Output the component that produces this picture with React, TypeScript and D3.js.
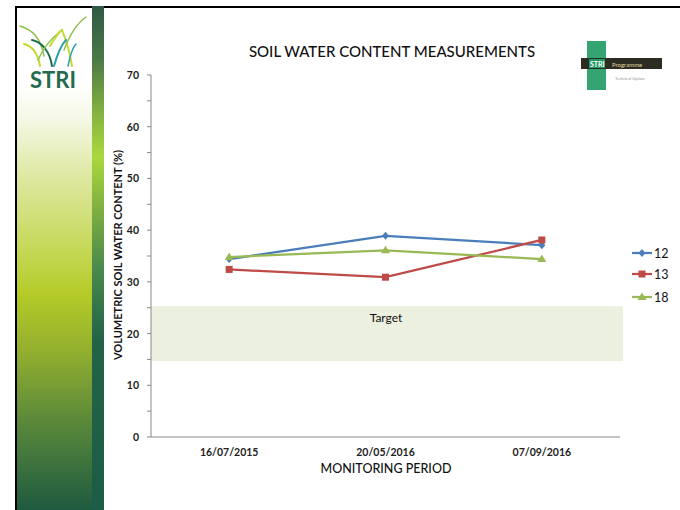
import React from "react";
import * as d3 from "d3";

const categories = ["16/07/2015", "20/05/2016", "07/09/2016"];
const series12 = [34.4, 38.9, 37.1];
const series13 = [32.4, 30.9, 38.1];
const series18 = [34.8, 36.1, 34.4];
const seriesNames = ["12", "13", "18"];
const yTicks = [0, 10, 20, 30, 40, 50, 60, 70];
const targetRange = [14.7, 25.3];

const W = 680, H = 510;
const PL = 151, PR = 620, PT = 75, PB = 437;
const FONT = "Lato, 'Open Sans', sans-serif";

export default function App() {
  const x = d3.scaleBand<string>().domain(categories).range([PL, PR]);
  const y = d3.scaleLinear().domain([0, 70]).range([PB, PT]);
  const cx = (c: string) => (x(c) as number) + x.bandwidth() / 2;
  const line = d3.line<number>().x((_, i) => cx(categories[i])).y((d) => y(d));
  const minor = d3.range(0, 71, 5);

  const colors = ["#4a7ebb", "#be4b48", "#98b954"];
  const data = [series12, series13, series18];

  const marker = (k: number, px: number, py: number, key: string) => {
    if (k === 0)
      return <path key={key} d={`M${px},${py - 4}L${px + 3.5},${py}L${px},${py + 4}L${px - 3.5},${py}Z`} fill={colors[0]} />;
    if (k === 1) return <rect key={key} x={px - 3.5} y={py - 3.5} width={7} height={7} fill={colors[1]} />;
    return <path key={key} d={`M${px},${py - 4.5}L${px + 4.5},${py + 3}L${px - 4.5},${py + 3}Z`} fill={colors[2]} />;
  };

  return (
    <svg width={W} height={H} style={{ position: "absolute", left: 0, top: 0 }}>
      <defs>
        <linearGradient id="panel" x1="0" y1="0" x2="0" y2="1">
          <stop offset="0" stopColor="#ffffff" />
          <stop offset="0.15" stopColor="#ffffff" />
          <stop offset="0.22" stopColor="#f5f8e6" />
          <stop offset="0.32" stopColor="#e1eaaa" />
          <stop offset="0.48" stopColor="#c6d858" />
          <stop offset="0.57" stopColor="#b4cb28" />
          <stop offset="0.68" stopColor="#94b02e" />
          <stop offset="0.82" stopColor="#5c8a3a" />
          <stop offset="1" stopColor="#1e5a40" />
        </linearGradient>
        <linearGradient id="bar" x1="0" y1="0" x2="0" y2="1">
          <stop offset="0" stopColor="#2e5a46" />
          <stop offset="0.1" stopColor="#4a7646" />
          <stop offset="0.22" stopColor="#88b640" />
          <stop offset="0.3" stopColor="#aad83e" />
          <stop offset="0.4" stopColor="#80b040" />
          <stop offset="0.52" stopColor="#4a8a4c" />
          <stop offset="0.66" stopColor="#236448" />
          <stop offset="1" stopColor="#1b5c46" />
        </linearGradient>
      </defs>
      <rect x={0} y={0} width={W} height={H} fill="#fff" />
      {/* frame */}
      <rect x={15} y={6} width={W - 15} height={2} fill="#000" />
      <rect x={15} y={6} width={2} height={H - 6} fill="#000" />
      <rect x={17} y={8} width={75} height={H - 8} fill="url(#panel)" />
      <rect x={92} y={6} width={12} height={H - 6} fill="url(#bar)" />

      {/* STRI logo */}
      <g fill="none" strokeLinecap="round">
        <path d="M20,26 C32,30 40,36 44,56" stroke="#8cc04a" strokeWidth={1.5} />
        <path d="M24,44 C32,46 38,54 40,66" stroke="#c4d830" strokeWidth={2} />
        <path d="M32,40 C42,42 50,52 52,66" stroke="#1e6b4a" strokeWidth={2} />
        <path d="M38,60 C44,46 54,36 62,30" stroke="#8cc04a" strokeWidth={1.5} />
        <path d="M50,46 C54,40 58,32 62,30 C66,40 70,52 72,66" stroke="#c4d830" strokeWidth={2} />
        <path d="M54,66 C58,52 62,44 66,40" stroke="#2aa0b0" strokeWidth={2} />
        <path d="M64,50 C70,34 76,24 86,17" stroke="#8cc04a" strokeWidth={1.5} />
        <path d="M68,66 C70,56 72,48 76,44" stroke="#2aa0b0" strokeWidth={1.5} />
      </g>
      <text x={53} y={88} textAnchor="middle" fontFamily={FONT} fontSize={22} fontWeight={700} fill="#236a4e">STRI</text>

      {/* top-right logo */}
      <rect x={587} y={41} width={19} height={49} fill="#1f9a64" opacity={0.9} />
      <rect x={581} y={58} width={81} height={11} fill="#2c2c22" />
      <rect x={589} y={59} width={16} height={9} fill="#1f9a64" />
      <text x={590} y={66.5} fontFamily={FONT} fontSize={7} fontWeight={700} fill="#fff">STRI</text>
      <text x={612} y={66.5} fontFamily={FONT} fontSize={6} fill="#e0d8a0">Programme</text>
      <text x={615} y={80} fontFamily={FONT} fontSize={4} fill="#999">Technical Update</text>

      {/* title */}
      <text x={392} y={57} textAnchor="middle" fontFamily={FONT} fontSize={15} fontWeight={500} fill="#111">SOIL WATER CONTENT MEASUREMENTS</text>

      {/* target band */}
      <rect x={PL} y={y(targetRange[1])} width={PR + 3 - PL} height={y(targetRange[0]) - y(targetRange[1])} fill="#ebf0df" />
      <text x={386} y={322} textAnchor="middle" fontFamily={FONT} fontSize={12} fill="#111">Target</text>

      {/* axes */}
      <line x1={PL} x2={PL} y1={PT} y2={PB} stroke="#888" strokeWidth={1} />
      <line x1={PL} x2={PR} y1={PB} y2={PB} stroke="#888" strokeWidth={1} />
      {minor.map((t) => (
        <line key={"m" + t} x1={PL - 4} x2={PL} y1={y(t)} y2={y(t)} stroke="#888" />
      ))}
      {yTicks.map((t) => (
        <text key={t} x={139} y={y(t) + 4} textAnchor="end" fontFamily={FONT} fontSize={10.5} fontWeight={700} fill="#222">{t}</text>
      ))}
      {categories.map((c) => (
        <text key={c} x={cx(c)} y={456} textAnchor="middle" fontFamily={FONT} fontSize={10.5} fontWeight={700} fill="#222">{c}</text>
      ))}
      <text x={386} y={473} textAnchor="middle" fontFamily={FONT} fontSize={12.5} fontWeight={500} fill="#111">MONITORING PERIOD</text>
      <text transform={`translate(122,255) rotate(-90)`} textAnchor="middle" fontFamily={FONT} fontSize={11} fontWeight={700} fill="#111">VOLUMETRIC SOIL WATER CONTENT (%)</text>

      {/* series */}
      {data.map((s, k) => (
        <g key={k}>
          <path d={line(s) as string} fill="none" stroke={colors[k]} strokeWidth={2.25} />
          {s.map((v, i) => marker(k, cx(categories[i]), y(v), k + "-" + i))}
        </g>
      ))}

      {/* legend */}
      {seriesNames.map((n, k) => {
        const ly = [253, 274, 297][k];
        return (
          <g key={n}>
            <line x1={632} x2={652} y1={ly} y2={ly} stroke={colors[k]} strokeWidth={2.25} />
            {marker(k, 642, ly, "l" + k)}
            <text x={654} y={ly + 4.5} fontFamily={FONT} fontSize={12.5} fill="#111">{n}</text>
          </g>
        );
      })}
    </svg>
  );
}
